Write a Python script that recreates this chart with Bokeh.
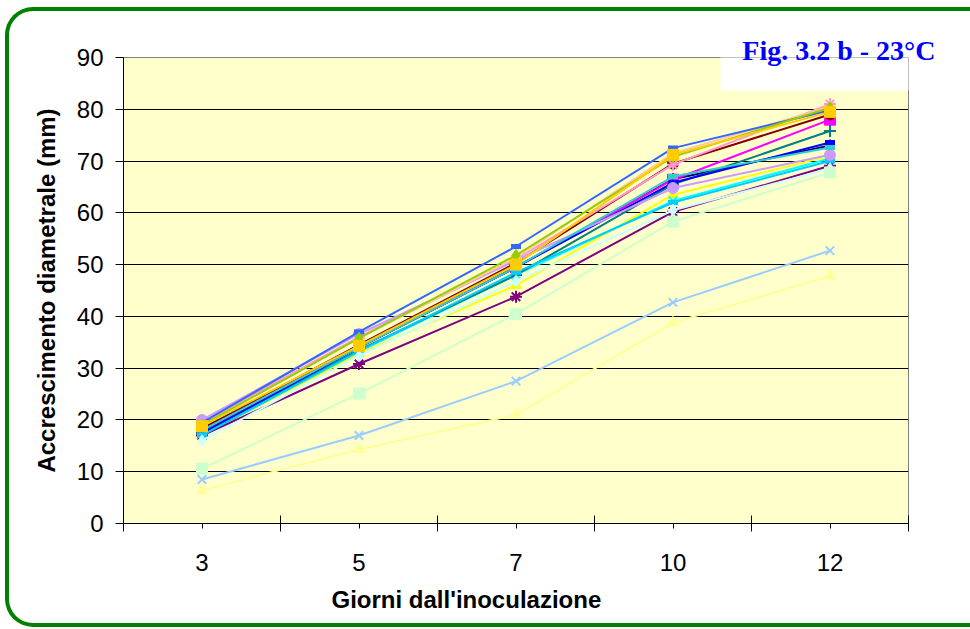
from bokeh.plotting import figure
from bokeh.models import FixedTicker, Range1d, BoxAnnotation, Title, InlineStyleSheet
from bokeh.embed import file_html
from bokeh.resources import INLINE

# ---- data ----
days = ["3", "5", "7", "10", "12"]

s01 = [17.6, 34.0, 49.5, 66.5, 73.0]   # navy diamond
s02 = [18.3, 34.3, 49.5, 66.4, 78.0]   # magenta square
s03 = [17.0, 32.8, 46.0, 63.5, 71.0]   # yellow triangle
s04 = [17.0, 33.2, 48.0, 62.3, 70.5]   # cyan x
s05 = [17.0, 30.8, 43.8, 60.2, 69.1]   # purple star
s06 = [18.3, 34.5, 50.3, 69.5, 79.0]   # maroon circle
s07 = [17.5, 33.5, 48.0, 65.5, 75.8]   # teal plus
s08 = [17.4, 34.0, 49.5, 65.8, 73.6]   # blue dash
s09 = [17.0, 33.3, 48.5, 62.0, 70.0]   # sky short dash
s10 = [16.0, 32.4, 46.8, 60.5, 68.5]   # light cyan diamond
s11 = [10.6, 25.1, 40.5, 58.3, 67.8]   # light green square
s12 = [6.4, 14.3, 21.0, 38.8, 47.8]    # light yellow triangle
s13 = [8.5, 17.0, 27.5, 42.7, 52.7]    # light blue x
s14 = [19.5, 36.0, 51.0, 69.3, 81.0]   # pink star
s15 = [20.0, 36.6, 50.8, 64.8, 71.2]   # lilac circle
s16 = [19.0, 35.8, 51.3, 71.5, 80.5]   # peach plus
s17 = [19.5, 37.0, 53.5, 72.5, 79.8]   # royal blue dash
s18 = [18.0, 34.0, 49.5, 67.0, 72.6]   # turquoise short dash
s19 = [19.0, 35.8, 51.8, 70.8, 80.3]   # olive green diamond
s20 = [18.8, 34.3, 50.0, 71.2, 79.5]   # gold square

series = [s01, s02, s03, s04, s05, s06, s07, s08, s09, s10,
          s11, s12, s13, s14, s15, s16, s17, s18, s19, s20]
colors = ["#000080", "#FF00FF", "#FFFF00", "#00FFFF", "#800080", "#800000",
          "#008080", "#0000FF", "#00CCFF", "#CCFFFF", "#CCFFCC", "#FFFF99",
          "#99CCFF", "#FF99CC", "#CC99FF", "#FFCC99", "#3366FF", "#33CCCC",
          "#99CC00", "#FFCC00"]
markers = ["diamond", "square", "triangle", "x", "asterisk", "circle", "cross",
           "dash", "dash", "diamond", "square", "triangle", "x", "asterisk",
           "circle", "cross", "dash", "dash", "diamond", "square"]
y_ticks = [0, 10, 20, 30, 40, 50, 60, 70, 80, 90]

# ---- figure ----
xs = list(range(len(days)))
p = figure(width=970, height=629, output_backend="svg", toolbar_location=None,
           x_range=Range1d(-0.5, len(days) - 0.5), y_range=Range1d(0, 90),
           min_border_left=123, min_border_right=62, min_border_top=57,
           min_border_bottom=106)
p.background_fill_color = "#FFFFCC"
p.border_fill_color = "white"
p.outline_line_color = "#808080"
p.outline_line_width = 1

# green rounded frame around the chart (CSS, no layout effect); right side runs off the page
p.stylesheets = [InlineStyleSheet(css="""
:host { position: relative; overflow: hidden; }
:host::after {
  content: ""; position: absolute; left: 5px; top: 6.5px; right: 0px;
  height: 620.5px; box-sizing: border-box;
  border: 4px solid #008000; border-right: none;
  border-radius: 28px 0 0 28px; pointer-events: none;
}
""")]

# axes
p.xaxis.ticker = FixedTicker(ticks=xs, minor_ticks=[i - 0.5 for i in range(len(days) + 1)])
p.xaxis.major_label_overrides = {i: d for i, d in enumerate(days)}
p.xaxis.major_tick_in = 0
p.xaxis.major_tick_out = 5
p.xaxis.minor_tick_in = 8
p.xaxis.minor_tick_out = 8
p.xaxis.major_label_standoff = 22

p.yaxis.ticker = FixedTicker(ticks=y_ticks, minor_ticks=[])
p.yaxis.major_tick_in = 0
p.yaxis.major_tick_out = 8
p.yaxis.major_label_standoff = 12
p.yaxis.axis_label = "Accrescimento diametrale (mm)"
p.yaxis.axis_label_standoff = 14

for ax in (p.xaxis[0], p.yaxis[0]):
    ax.axis_line_color = "black"
    ax.major_tick_line_color = "black"
    ax.minor_tick_line_color = "black"
    ax.major_label_text_font = "Liberation Sans"
    ax.major_label_text_font_size = "24px"
    ax.major_label_text_color = "black"
    ax.axis_label_text_font = "Liberation Sans"
    ax.axis_label_text_font_size = "24px"
    ax.axis_label_text_font_style = "bold"
    ax.axis_label_text_color = "black"

# x axis title (positioned like the original, left of frame centre)
p.add_layout(Title(text="Giorni dall'inoculazione", align="left", offset=208,
                   vertical_align="top", standoff=25,
                   text_font="Liberation Sans", text_font_style="bold",
                   text_font_size="24px", text_color="black"), "below")

p.xgrid.visible = False
p.ygrid.ticker = FixedTicker(ticks=y_ticks[1:-1])
p.ygrid.grid_line_color = "black"
p.ygrid.grid_line_width = 1

# white box behind the figure label
p.add_layout(BoxAnnotation(left=720, right=975, top=12, bottom=90,
                           left_units="canvas", right_units="canvas",
                           top_units="canvas", bottom_units="canvas",
                           fill_color="white", fill_alpha=1, line_alpha=0,
                           level="underlay"))

# series
for vals, col, mk in zip(series, colors, markers):
    p.line(xs, vals, line_color=col, line_width=2)
    if mk == "dash":
        p.scatter(xs, vals, marker="dash", size=10, line_color=col, line_width=5)
    elif mk in ("x", "asterisk", "cross"):
        p.scatter(xs, vals, marker=mk, size=12, line_color=col, line_width=2)
    elif mk == "circle":
        p.scatter(xs, vals, marker="circle", size=11, fill_color=col, line_color=col)
    elif mk == "diamond":
        p.scatter(xs, vals, marker="diamond", size=12, fill_color=col, line_color=col)
    elif mk == "triangle":
        p.scatter(xs, vals, marker="triangle", size=11, fill_color=col, line_color=col)
    else:
        p.scatter(xs, vals, marker="square", size=11, fill_color=col, line_color=col)

# figure label
p.title.text = "Fig. 3.2 b - 23°C"
p.title.align = "right"
p.title.offset = -27
p.title.vertical_align = "bottom"
p.title.standoff = -16
p.title.text_font = "Liberation Serif"
p.title.text_font_style = "bold"
p.title.text_font_size = "28px"
p.title.text_color = "#0000FF"

open("out.html", "w").write(file_html(p, INLINE))
